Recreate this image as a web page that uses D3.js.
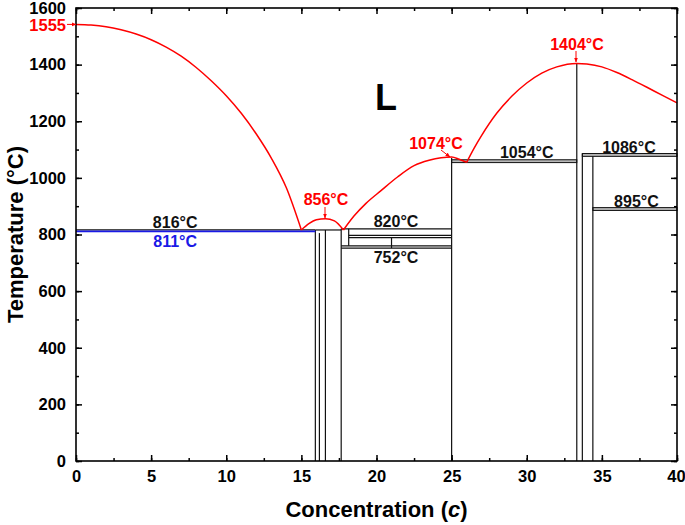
<!DOCTYPE html>
<html>
<head>
<meta charset="utf-8">
<script src="https://cdn.jsdelivr.net/npm/d3@7"></script>
<style>
  body { margin: 0; background: #fff; }
  text { font-family: "Liberation Sans", Arial, sans-serif; font-weight: bold; }
</style>
</head>
<body>
<div id="canvas"></div>
<script>
'use strict';

// liquidus branches (concentration, temperature)
var liquidusA = [[0,1542],[1,1540],[2,1534],[3,1523],[4,1508],[5,1488],[6,1462],[7,1430],[8,1390],[9,1343],[10,1290],[11,1228],[12,1155],[13,1070],[14,965],[15,816]];
var liquidusB = [[15,816],[15.5,838],[16,852],[16.6,856],[17.2,848],[17.8,816]];
var liquidusC = [[17.8,816],[18.5,865],[19.3,910],[20.3,955],[21.4,1003],[22.5,1043],[23.5,1062],[24.3,1071],[25,1074],[25.5,1066],[26,1055]];
var liquidusD = [[26,1055],[26.5,1105],[27,1150],[28,1228],[29,1288],[30,1335],[31,1370],[32,1392],[33.33,1404],[34,1402],[35,1392],[36,1372],[37,1347],[38,1320],[39,1292],[40,1265]];

// invariant lines
var blackLines = [
    {c1: 0, c2: 15.93, t: 816},
    {c1: 15.93, c2: 17.65, t: 816},
    {c1: 17.65, c2: 25, t: 820},
    {c1: 18.15, c2: 25, t: 797},
    {c1: 18.15, c2: 25, t: 789},
    {c1: 17.65, c2: 25, t: 760},
    {c1: 17.65, c2: 25, t: 752}
];
var blueLines = [{c1: 0, c2: 15.93, t: 811}];
var bands = [
    {c1: 25, c2: 33.33, t1: 1054, t2: 1064},
    {c1: 33.7, c2: 40, t1: 1076, t2: 1086},
    {c1: 34.4, c2: 40, t1: 885, t2: 895}
];
var verticals = [
    {c: 15.93, t0: 0, t: 816},
    {c: 16.2, t0: 0, t: 805},
    {c: 16.6, t0: 0, t: 816},
    {c: 17.65, t0: 0, t: 820},
    {c: 18.15, t0: 760, t: 820},
    {c: 21, t0: 752, t: 789},
    {c: 25, t0: 0, t: 1070},
    {c: 33.33, t0: 0, t: 1404},
    {c: 33.7, t0: 0, t: 1086},
    {c: 34.4, t0: 0, t: 1076}
];

// temperature labels
var blackLabels = [
    {c: 6.6, t: 816, text: '816°C', dy: -2},
    {c: 21.3, t: 820, text: '820°C', dy: -2},
    {c: 21.3, t: 752, text: '752°C', dy: 15},
    {c: 30, t: 1064, text: '1054°C', dy: -2},
    {c: 36.8, t: 1086, text: '1086°C', dy: -1},
    {c: 37.3, t: 895, text: '895°C', dy: -1}
];
var blueLabels = [{c: 6.6, t: 811, text: '811°C', dy: 16}];
var redLabels = [
    {text: '856°C', tx: 326, ty: 205, ax1: 325, ay1: 207, ax2: 325, ay2: 218},
    {text: '1074°C', tx: 436, ty: 149, ax1: 441, ay1: 150, ax2: 450, ay2: 157},
    {text: '1404°C', tx: 577, ty: 50, ax1: 576, ay1: 51, ax2: 576, ay2: 62}
];

var xTicks = [0, 5, 10, 15, 20, 25, 30, 35, 40];
var yTicks = [0, 200, 400, 600, 800, 1000, 1200, 1400, 1600];

var width = 685;
var height = 525;
var mLeft = 76, mRight = 677, mTop = 8, mBottom = 461;

var svg = d3.select('#canvas')
            .append('svg')
            .attr('width', width)
            .attr('height', height);

var x = d3.scaleLinear().domain([0, 40]).range([mLeft, mRight]);
var y = d3.scaleLinear().domain([0, 1600]).range([mBottom, mTop]);

var defs = svg.append('defs');
defs.append('marker')
    .attr('id', 'arrowRed')
    .attr('viewBox', '0 0 10 10')
    .attr('refX', 9)
    .attr('refY', 5)
    .attr('markerWidth', 5)
    .attr('markerHeight', 5)
    .attr('orient', 'auto')
    .append('path')
    .attr('d', 'M0,1L10,5L0,9Z')
    .attr('fill', '#ff0000');

var plot = svg.append('g').attr('id', 'plot');

// gray double-line bands
plot.selectAll('rect.band')
    .data(bands)
    .enter()
    .append('rect')
    .attr('class', 'band')
    .attr('x', function(d){ return x(d.c1); })
    .attr('y', function(d){ return y(d.t2); })
    .attr('width', function(d){ return x(d.c2) - x(d.c1); })
    .attr('height', function(d){ return y(d.t1) - y(d.t2); })
    .attr('fill', '#b8b8b8')
    .attr('stroke', '#111')
    .attr('stroke-width', 1);

plot.selectAll('line.hl')
    .data(blackLines)
    .enter()
    .append('line')
    .attr('class', 'hl')
    .attr('x1', function(d){ return x(d.c1); })
    .attr('x2', function(d){ return x(d.c2); })
    .attr('y1', function(d){ return y(d.t); })
    .attr('y2', function(d){ return y(d.t); })
    .attr('stroke', '#111')
    .attr('stroke-width', 1.2);

plot.selectAll('line.vl')
    .data(verticals)
    .enter()
    .append('line')
    .attr('class', 'vl')
    .attr('x1', function(d){ return x(d.c); })
    .attr('x2', function(d){ return x(d.c); })
    .attr('y1', function(d){ return y(d.t0); })
    .attr('y2', function(d){ return y(d.t); })
    .attr('stroke', '#111')
    .attr('stroke-width', 1.2);

plot.selectAll('line.blue')
    .data(blueLines)
    .enter()
    .append('line')
    .attr('class', 'blue')
    .attr('x1', function(d){ return x(d.c1); })
    .attr('x2', function(d){ return x(d.c2); })
    .attr('y1', function(d){ return y(d.t); })
    .attr('y2', function(d){ return y(d.t); })
    .attr('stroke', '#1a1ae6')
    .attr('stroke-width', 1.8);

var curve = d3.line()
              .x(function(d){ return x(d[0]); })
              .y(function(d){ return y(d[1]); })
              .curve(d3.curveMonotoneX);

plot.selectAll('path.liq')
    .data([liquidusA, liquidusB, liquidusC, liquidusD])
    .enter()
    .append('path')
    .attr('class', 'liq')
    .attr('d', curve)
    .attr('fill', 'none')
    .attr('stroke', '#ff0000')
    .attr('stroke-width', 1.5);

// frame and ticks
function inward(axis, size){
    return axis.tickSizeInner(size).tickSizeOuter(0).tickPadding(6);
}

var xMinor = d3.range(0, 40.1, 2.5);
var yMinor = d3.range(0, 1601, 100);

svg.append('g')
   .attr('transform', 'translate(0,' + mBottom + ')')
   .call(inward(d3.axisBottom(x).tickValues(xMinor).tickFormat(''), -3));
svg.append('g')
   .attr('class', 'xaxis')
   .attr('transform', 'translate(0,' + mBottom + ')')
   .call(inward(d3.axisBottom(x).tickValues(xTicks).tickFormat(d3.format('d')), -6).tickPadding(9));
svg.append('g')
   .attr('transform', 'translate(0,' + mTop + ')')
   .call(inward(d3.axisTop(x).tickValues(xMinor).tickFormat(''), -3));
svg.append('g')
   .attr('transform', 'translate(0,' + mTop + ')')
   .call(inward(d3.axisTop(x).tickValues(xTicks).tickFormat(''), -6));

svg.append('g')
   .attr('transform', 'translate(' + mLeft + ',0)')
   .call(inward(d3.axisLeft(y).tickValues(yMinor).tickFormat(''), -3));
svg.append('g')
   .attr('class', 'yaxis')
   .attr('transform', 'translate(' + mLeft + ',0)')
   .call(inward(d3.axisLeft(y).tickValues(yTicks).tickFormat(d3.format('d')), -6).tickPadding(10));
svg.append('g')
   .attr('transform', 'translate(' + mRight + ',0)')
   .call(inward(d3.axisRight(y).tickValues(yMinor).tickFormat(''), -3));
svg.append('g')
   .attr('transform', 'translate(' + mRight + ',0)')
   .call(inward(d3.axisRight(y).tickValues(yTicks).tickFormat(''), -6));

svg.selectAll('.domain').remove();
svg.selectAll('.tick line').attr('stroke', '#000').attr('stroke-width', 1.5);
svg.selectAll('.xaxis text, .yaxis text')
   .attr('font-size', 16.5)
   .attr('font-weight', 'bold')
   .attr('fill', '#000')
   .attr('font-family', '"Liberation Sans", Arial, sans-serif');
// keep the last x label inside the picture
svg.selectAll('.xaxis .tick text')
   .filter(function(d){ return d === 40; })
   .attr('dx', -1);

svg.append('rect')
   .attr('x', mLeft)
   .attr('y', mTop)
   .attr('width', mRight - mLeft)
   .attr('height', mBottom - mTop)
   .attr('fill', 'none')
   .attr('stroke', '#000')
   .attr('stroke-width', 1.6);

// 1555 label on the left axis, pointing at the start of the liquidus
svg.append('text')
   .attr('x', mLeft - 10)
   .attr('y', y(liquidusA[0][1]) + 1)
   .attr('dy', '0.35em')
   .attr('text-anchor', 'end')
   .attr('font-size', 16.5)
   .attr('fill', '#ff0000')
   .text('1555');
svg.append('line')
   .attr('x1', mLeft - 9)
   .attr('x2', mLeft)
   .attr('y1', y(liquidusA[0][1]))
   .attr('y2', y(liquidusA[0][1]))
   .attr('stroke', '#ff0000')
   .attr('stroke-width', 1)
   .attr('marker-end', 'url(#arrowRed)');

// titles
svg.append('text')
   .attr('x', (mLeft + mRight) / 2)
   .attr('y', 517)
   .attr('text-anchor', 'middle')
   .attr('font-size', 22)
   .html('Concentration (<tspan font-style="italic">c</tspan>)');

svg.append('text')
   .attr('transform', 'translate(23,' + ((mTop + mBottom) / 2) + ') rotate(-90)')
   .attr('text-anchor', 'middle')
   .attr('font-size', 22)
   .text('Temperature (°C)');

svg.append('text')
   .attr('x', 386)
   .attr('y', 110)
   .attr('text-anchor', 'middle')
   .attr('font-size', 36)
   .text('L');

// annotations
plot.selectAll('text.blk')
    .data(blackLabels)
    .enter()
    .append('text')
    .attr('class', 'blk')
    .attr('x', function(d){ return x(d.c); })
    .attr('y', function(d){ return y(d.t) + d.dy; })
    .attr('text-anchor', 'middle')
    .attr('font-size', 16)
    .attr('fill', '#111')
    .text(function(d){ return d.text; });

plot.selectAll('text.blu')
    .data(blueLabels)
    .enter()
    .append('text')
    .attr('class', 'blu')
    .attr('x', function(d){ return x(d.c); })
    .attr('y', function(d){ return y(d.t) + d.dy; })
    .attr('text-anchor', 'middle')
    .attr('font-size', 16)
    .attr('fill', '#1a1ae6')
    .text(function(d){ return d.text; });

var reds = plot.selectAll('g.red')
    .data(redLabels)
    .enter()
    .append('g')
    .attr('class', 'red');
reds.append('text')
    .attr('x', function(d){ return d.tx; })
    .attr('y', function(d){ return d.ty; })
    .attr('text-anchor', 'middle')
    .attr('font-size', 16)
    .attr('fill', '#ff0000')
    .text(function(d){ return d.text; });
reds.append('line')
    .attr('x1', function(d){ return d.ax1; })
    .attr('y1', function(d){ return d.ay1; })
    .attr('x2', function(d){ return d.ax2; })
    .attr('y2', function(d){ return d.ay2; })
    .attr('stroke', '#ff0000')
    .attr('stroke-width', 1)
    .attr('marker-end', 'url(#arrowRed)');
</script>
</body>
</html>
